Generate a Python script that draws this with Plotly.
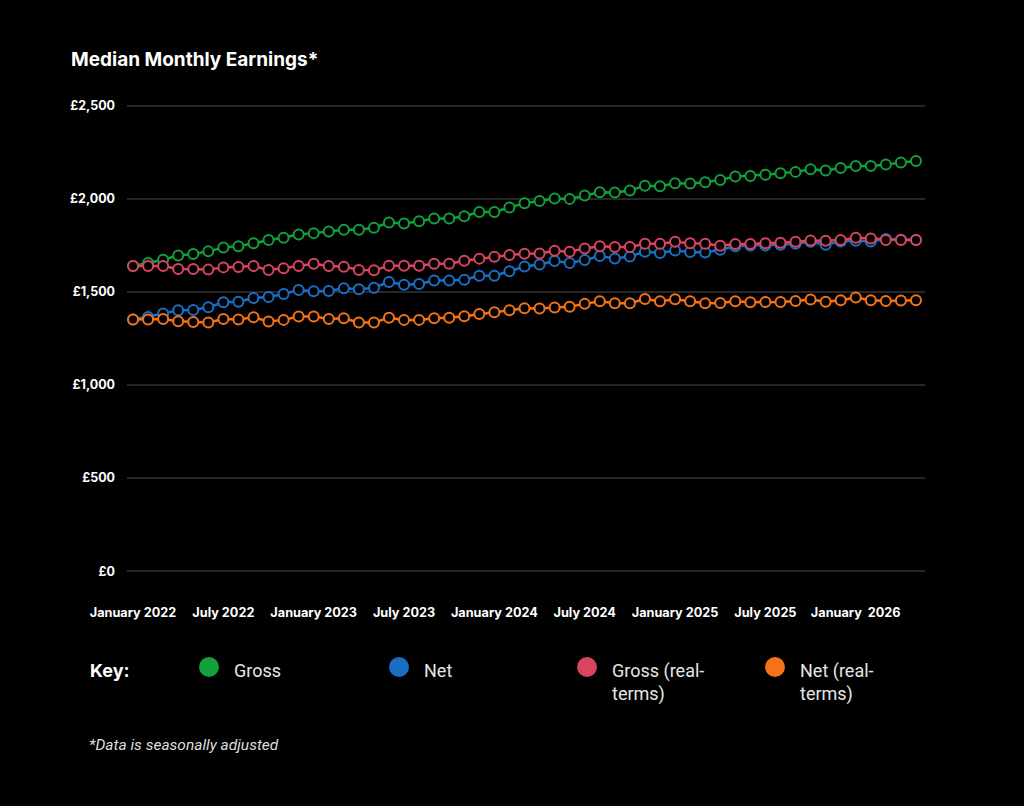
import plotly.graph_objects as go
import pandas as pd

months = [d.strftime("%b %Y") for d in pd.date_range("2022-01-01", periods=53, freq="MS")]

gross = [1639, 1655, 1673, 1696, 1704, 1718, 1739, 1746, 1762, 1779, 1791, 1809, 1816, 1825,
         1834, 1834, 1845, 1873, 1868, 1880, 1895, 1895, 1907, 1929, 1930, 1954, 1977,
         1989, 2002, 2000, 2018, 2036, 2034, 2045, 2071, 2068, 2084, 2082, 2089, 2102,
         2120, 2123, 2130, 2138, 2145, 2159, 2152, 2166, 2177, 2177, 2184, 2196, 2204]
net = [1352, 1366, 1384, 1402, 1403, 1418, 1445, 1448, 1468, 1473, 1489, 1511, 1504, 1505,
       1520, 1514, 1523, 1554, 1539, 1543, 1562, 1561, 1566, 1587, 1587, 1611, 1637,
       1648, 1666, 1655, 1671, 1693, 1680, 1691, 1716, 1709, 1723, 1714, 1712, 1727,
       1745, 1750, 1750, 1754, 1759, 1770, 1754, 1771, 1775, 1771, 1784, 1780, 1779]
gross_real = [1639, 1639, 1639, 1623, 1623, 1620, 1632, 1634, 1639, 1618, 1627, 1639, 1652, 1639,
              1636, 1618, 1616, 1641, 1641, 1641, 1652, 1652, 1668, 1679, 1689, 1698, 1705,
              1707, 1721, 1716, 1734, 1745, 1741, 1741, 1759, 1759, 1770, 1762, 1759, 1748,
              1757, 1757, 1762, 1764, 1770, 1777, 1775, 1779, 1791, 1787, 1779, 1779, 1779]
net_real = [1352, 1352, 1355, 1343, 1339, 1336, 1355, 1352, 1364, 1341, 1350, 1368, 1368, 1355,
            1359, 1336, 1336, 1361, 1350, 1350, 1359, 1361, 1370, 1382, 1391, 1402, 1412,
            1411, 1416, 1420, 1436, 1450, 1439, 1439, 1462, 1450, 1461, 1450, 1439, 1441,
            1450, 1445, 1446, 1446, 1452, 1459, 1448, 1455, 1470, 1455, 1452, 1454, 1455]

series_names = ["Gross", "Net", "Gross (real-<br>terms)", "Net (real-<br>terms)"]
colors = ["#12a03b", "#1a6fc4", "#d9445f", "#f47317"]

tick_months = months[::6]
tick_labels = ["January 2022", "July 2022", "January 2023", "July 2023", "January 2024",
               "July 2024", "January 2025", "July 2025", "January \u00a02026"]
y_ticks = [0, 500, 1000, 1500, 2000, 2500]
y_labels = ["£0", "£500", "£1,000", "£1,500", "£2,000", "£2,500"]

# plot area in pixels (y range padded so edge gridlines draw)
L, R, T, B = 127, 925, 103, 574
W, H = 1024, 806


def px(x):
    return (x - L) / (R - L)


def py(y):
    return (B - y) / (B - T)


fig = go.Figure()
for vals, name, col in zip([gross, net, gross_real, net_real], series_names, colors):
    fig.add_trace(go.Scatter(
        x=months, y=vals, name=name, mode="lines+markers",
        line=dict(color=col, width=2.5),
        marker=dict(symbol="circle", size=10, color="#000000",
                    line=dict(color=col, width=2)),
        showlegend=False,
    ))

font_family = "Inter, Roboto, sans-serif"

fig.update_layout(
    width=W, height=H,
    paper_bgcolor="#000000", plot_bgcolor="#000000",
    margin=dict(l=L, r=W - R, t=T, b=H - B, pad=0),
    font=dict(family=font_family, color="#ffffff"),
    xaxis=dict(
        type="category", range=[-0.4, 52.6],
        tickvals=tick_months, ticktext=tick_labels,
        tickfont=dict(size=12.7, color="#ffffff", weight="bold"),
        showgrid=False, zeroline=False, showline=False,
        ticks="", ticklabelstandoff=29,
    ),
    yaxis=dict(
        range=[-15, 2515], tickvals=y_ticks, ticktext=y_labels,
        tickfont=dict(size=12.5, color="#ffffff", weight="bold"),
        showgrid=True, gridcolor="#262626", gridwidth=1.5,
        zeroline=False, showline=False, ticks="", ticklabelstandoff=11,
    ),
)

annotations = [
    dict(text="Median Monthly Earnings*", x=px(69), y=py(59), xanchor="left", yanchor="middle",
         font=dict(size=19, color="#ffffff", weight="bold")),
    dict(text="Key:", x=px(88), y=py(670), xanchor="left", yanchor="middle",
         font=dict(size=18, color="#ffffff", weight="bold")),
    dict(text="<i>*Data is seasonally adjusted</i>", x=px(87), y=py(745), xanchor="left", yanchor="middle",
         font=dict(size=15.5, color="#dddddd", family="Roboto, sans-serif")),
]
key_circles = [209, 399, 587, 775]
key_text_x = [232, 422, 610, 798]
shapes = []
for cx, tx, name, col in zip(key_circles, key_text_x, series_names, colors):
    shapes.append(dict(type="circle", xref="paper", yref="paper",
                       x0=px(cx - 10), x1=px(cx + 10), y0=py(667 + 10), y1=py(667 - 10),
                       fillcolor=col, line=dict(width=0)))
    annotations.append(dict(text=name, x=px(tx), y=py(658), xanchor="left", yanchor="top",
                            align="left",
                            font=dict(size=18, color="#e6e6e6", family="Roboto, sans-serif")))

for a in annotations:
    a.update(xref="paper", yref="paper", showarrow=False)
fig.update_layout(annotations=annotations, shapes=shapes)

fig.write_html("out.html")
